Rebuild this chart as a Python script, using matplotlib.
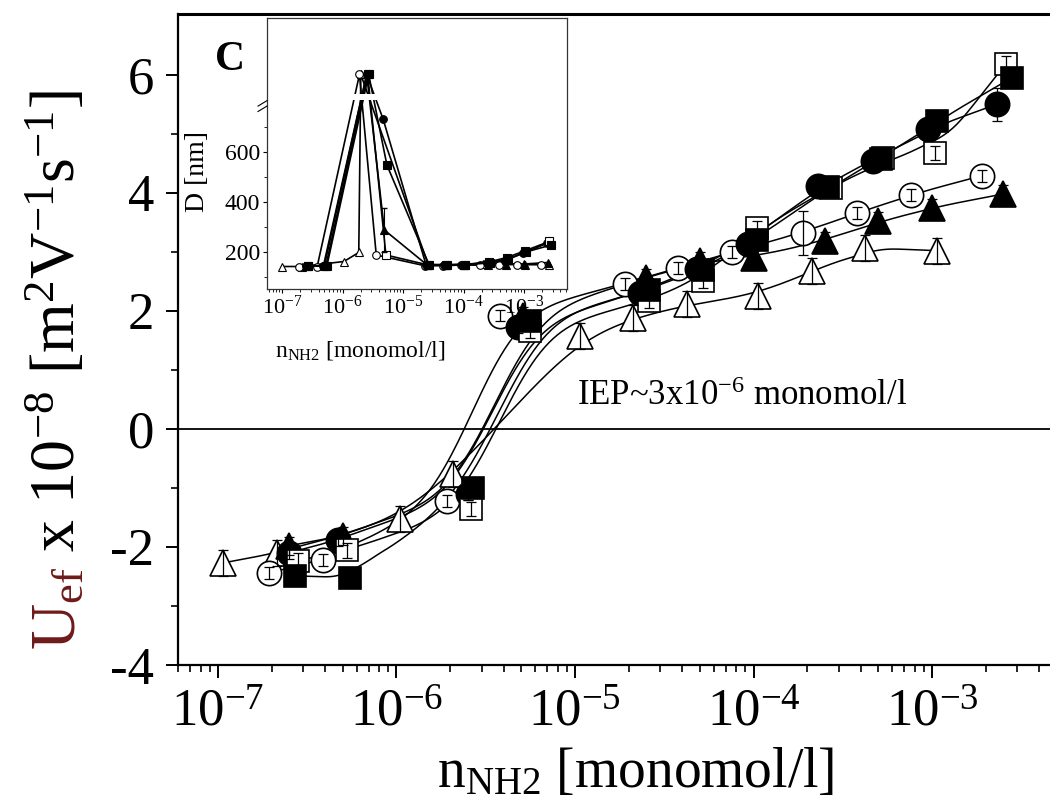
import numpy as np
import matplotlib
matplotlib.use("Agg")
import matplotlib.pyplot as plt
from matplotlib.ticker import FixedLocator, FuncFormatter, LogFormatterMathtext, LogLocator, NullFormatter

plt.rcParams['font.family'] = ['Liberation Serif', 'DejaVu Serif']
plt.rcParams['mathtext.fontset'] = 'custom'
plt.rcParams['mathtext.rm'] = 'Liberation Serif'
plt.rcParams['mathtext.it'] = 'Liberation Serif:italic'
plt.rcParams['mathtext.bf'] = 'Liberation Serif:bold'
plt.rcParams['axes.unicode_minus'] = False

# ---------------- main panel data (mobility) ----------------
ot_x = [1.07e-7, 2.14e-7, 1.04e-6, 2.08e-6, 1.07e-5, 2.11e-5, 4.26e-5, 1.06e-4, 2.14e-4, 4.2e-4, 1.07e-3]
ot_y = [-2.27, -2.10, -1.53, -0.76, 1.58, 1.88, 2.12, 2.25, 2.68, 3.07, 3.02]
ot_e = [0.22] * 11

ft_x = [2.5e-7, 5.0e-7, 2.5e-6, 5.1e-6, 2.5e-5, 5.0e-5, 1.0e-4, 2.5e-4, 5.0e-4, 1.0e-3, 2.5e-3]
ft_y = [-1.98, -1.81, -1.05, 1.92, 2.56, 2.85, 2.90, 3.18, 3.52, 3.75, 3.98]
ft_e = [0.15] * 11

oc_x = [1.93e-7, 3.87e-7, 1.92e-6, 3.8e-6, 1.9e-5, 3.8e-5, 7.6e-5, 1.9e-4, 3.8e-4, 7.6e-4, 1.9e-3]
oc_y = [-2.44, -2.22, -1.22, 1.92, 2.46, 2.73, 3.00, 3.32, 3.66, 3.97, 4.29]
oc_e = [0.1, 0.1, 0.1, 0.1, 0.1, 0.1, 0.1, 0.37, 0.1, 0.1, 0.1]

fc_x = [2.5e-7, 4.7e-7, 2.5e-6, 4.8e-6, 2.3e-5, 4.8e-5, 9.3e-5, 2.3e-4, 4.7e-4, 9.5e-4, 2.3e-3]
fc_y = [-2.10, -1.88, -1.10, 1.73, 2.30, 2.71, 3.13, 4.12, 4.54, 5.08, 5.50]
fc_e = [0.1, 0.1, 0.1, 0.1, 0.1, 0.1, 0.1, 0.1, 0.1, 0.1, 0.28]

os_x = [2.8e-7, 5.3e-7, 2.6e-6, 5.6e-6, 2.6e-5, 5.2e-5, 1.04e-4, 2.7e-4, 5.3e-4, 1.04e-3, 2.6e-3]
os_y = [-2.23, -2.06, -1.36, 1.66, 2.17, 2.50, 3.40, 4.08, 4.59, 4.68, 6.19]
os_e = [0.12] * 11

fs_x = [2.7e-7, 5.5e-7, 2.7e-6, 5.6e-6, 2.6e-5, 5.2e-5, 1.04e-4, 2.6e-4, 5.2e-4, 1.07e-3, 2.8e-3]
fs_y = [-2.49, -2.52, -1.00, 1.83, 2.35, 2.70, 3.20, 4.10, 4.57, 5.22, 5.95]
fs_e = [0.12] * 11

y_ticks = [-4, -2, 0, 2, 4, 6]

# ---------------- inset data (size D, nm) ----------------
PEAK = 3000.0
i_ot_x = [1.0e-7, 2.1e-7, 1.05e-6, 1.85e-6, 2.0e-6, 2.6e-5, 5.2e-5, 1.0e-4, 2.1e-4, 4.2e-4, 1.05e-3, 2.6e-3]
i_ot_y = [142, 142, 162, 198, PEAK, 150, 150, 150, 152, 155, 150, 150]
i_ft_x = [2.5e-7, 5.0e-7, 2.5e-6, 4.9e-6, 2.5e-5, 5.0e-5, 1.0e-4, 2.5e-4, 5.0e-4, 1.0e-3, 2.5e-3]
i_ft_y = [145, 145, PEAK, 288, 148, 148, 148, 150, 150, 152, 158]
i_oc_x = [1.9e-7, 3.8e-7, 1.9e-6, 3.6e-6, 2.3e-5, 4.6e-5, 9.2e-5, 1.9e-4, 3.8e-4, 7.6e-4, 1.9e-3]
i_oc_y = [140, 142, PEAK, 188, 145, 145, 148, 148, 150, 150, 150]
i_fc_x = [2.5e-7, 4.8e-7, 2.5e-6, 4.7e-6, 2.4e-5, 4.8e-5, 9.5e-5, 2.4e-4, 4.8e-4, 9.6e-4, 2.4e-3]
i_fc_y = [145, 143, PEAK, 730, 148, 148, 150, 155, 165, 195, 235]
i_os_x = [2.7e-7, 5.3e-7, 2.6e-6, 5.2e-6, 2.6e-5, 5.2e-5, 1.04e-4, 2.6e-4, 5.2e-4, 1.04e-3, 2.6e-3]
i_os_y = [145, 145, PEAK, 188, 148, 148, 150, 160, 178, 205, 242]
i_fs_x = [2.7e-7, 5.5e-7, 2.7e-6, 5.4e-6, 2.7e-5, 5.4e-5, 1.07e-4, 2.7e-4, 5.4e-4, 1.07e-3, 2.8e-3]
i_fs_y = [145, 145, PEAK, 548, 148, 148, 150, 158, 172, 200, 228]
i_y_ticks = [200, 400, 600]


def smooth_curve(xs, ys, sigma=0.19, n=500):
    """Piecewise-linear curve in log-x, rounded with a Gaussian kernel (drawing aid)."""
    lx = np.log10(xs)
    q = np.linspace(lx[0], lx[-1], n)
    lin = np.interp(q, lx, ys)
    out = np.empty_like(q)
    for i, qi in enumerate(q):
        s = min(sigma, (qi - q[0]) / 2.5, (q[-1] - qi) / 2.5)
        if s <= 1e-6:
            out[i] = lin[i]
            continue
        w = np.exp(-0.5 * ((q - qi) / s) ** 2)
        out[i] = np.sum(w * lin) / np.sum(w)
    return 10 ** q, out


W, H = 1050, 810
fig = plt.figure(figsize=(10.5, 8.1), dpi=100)
ax = fig.add_axes([178 / W, 145 / H, (W - 178) / W, 651 / H])
ax.set_xscale('log')
ax.set_xlim(10 ** -7.224, 10 ** -2.339)
ax.set_ylim(-4, 7.03)

series = [
    (ot_x, ot_y, ot_e, '^', 'white', 18.5),
    (ft_x, ft_y, ft_e, '^', 'black', 18.5),
    (oc_x, oc_y, oc_e, 'o', 'white', 17.5),
    (fc_x, fc_y, fc_e, 'o', 'black', 17.5),
    (os_x, os_y, os_e, 's', 'white', 16),
    (fs_x, fs_y, fs_e, 's', 'black', 16),
]
ax.axhline(0, color='black', lw=1.3, zorder=1)
for xs, ys, es, mk, fc, ms in series:
    cx, cy = smooth_curve(xs, ys)
    ax.plot(cx, cy, color='black', lw=1.1, zorder=2)
    ax.plot(xs, ys, ls='none', marker=mk, ms=ms, mfc=fc, mec='black', mew=1.2, zorder=3)
    ax.errorbar(xs, ys, yerr=es, fmt='none', ecolor='black', elinewidth=0.9,
                capsize=3.5, capthick=0.9, zorder=4)

for s in ['left', 'bottom', 'top']:
    ax.spines[s].set_linewidth(1.6)
ax.spines['top'].set_linewidth(2.2)
ax.spines['right'].set_visible(False)
ax.xaxis.set_major_locator(LogLocator(base=10, numticks=20))
ax.xaxis.set_minor_locator(LogLocator(base=10, subs=np.arange(2, 10), numticks=20))
ax.xaxis.set_major_formatter(LogFormatterMathtext())
ax.xaxis.set_minor_formatter(NullFormatter())
ax.yaxis.set_major_locator(FixedLocator(y_ticks))
ax.yaxis.set_minor_locator(FixedLocator([-3, -1, 1, 3, 5]))
ax.yaxis.set_major_formatter(FuncFormatter(lambda v, p: '%d' % v))
ax.tick_params(which='major', direction='out', length=9, width=1.4, labelsize=38, pad=8,
               top=False, right=False)
ax.tick_params(which='minor', direction='out', length=5, width=1.2, top=False, right=False)

ax.text(577 / W, 1 - 405 / H, 'IEP~3x10$^{-6}$ monomol/l', transform=fig.transFigure,
        fontsize=25, ha='left', va='baseline')

fig.text(636 / W, 1 - 787 / H, 'n$_{\\mathrm{NH2}}$ [monomol/l]', fontsize=40,
         ha='center', va='baseline')

# y label in two pieces (U_ef dark red)
t1 = fig.text(75 / W, 160 / H, 'U$_{\\mathrm{ef}}$', color='#6e1a1a', fontsize=46, rotation=90,
              rotation_mode='anchor', ha='left', va='baseline')
fig.canvas.draw()
bb = t1.get_window_extent(renderer=fig.canvas.get_renderer())
fig.text(75 / W, (160 + bb.height) / H, ' x 10$^{-8}$ [m$^{2}$V$^{-1}$s$^{-1}$]', color='black',
         fontsize=46, rotation=90, rotation_mode='anchor', ha='left', va='baseline')

fig.text(215 / W, 1 - 70 / H, 'C', fontsize=30, fontweight='bold', ha='left', va='baseline')

# ---------------- inset ----------------
B, K = 800.0, 0.05
def fwd(y):
    y = np.asarray(y, float)
    return np.where(y <= B, y, B + (y - B) * K)
def inv(v):
    v = np.asarray(v, float)
    return np.where(v <= B, v, B + (v - B) / K)

ins = fig.add_axes([267 / W, 1 - 289 / H, 300 / W, 271 / H])
ins.set_xscale('log')
ins.set_yscale('function', functions=(fwd, inv))
ins.set_xlim(10 ** -7.25, 10 ** -2.29)
ins.set_ylim(52, float(inv(1136)))

iseries = [
    (i_ot_x, i_ot_y, '^', 'white'),
    (i_ft_x, i_ft_y, '^', 'black'),
    (i_oc_x, i_oc_y, 'o', 'white'),
    (i_fc_x, i_fc_y, 'o', 'black'),
    (i_os_x, i_os_y, 's', 'white'),
    (i_fs_x, i_fs_y, 's', 'black'),
]
for xs, ys, mk, fc in iseries:
    ins.plot(xs, ys, color='black', lw=1.2, marker=mk, ms=5.5, mfc=fc, mec='black', mew=0.8, zorder=3)
ins.errorbar([4.9e-6], [288], yerr=[88], fmt='none', ecolor='black', elinewidth=0.8, capsize=2, zorder=4)
ins.axhspan(float(inv(807)), float(inv(832)), color='white', zorder=4, lw=0)
for s in ins.spines.values():
    s.set_linewidth(0.9)
    s.set_color('#333333')
    s.set_zorder(6)
ins.plot([-0.03, 0.0], [0.655, 0.675], transform=ins.transAxes, color='black', lw=0.8, clip_on=False, zorder=7)
ins.plot([-0.03, 0.0], [0.675, 0.695], transform=ins.transAxes, color='black', lw=0.8, clip_on=False, zorder=7)

ins.xaxis.set_major_locator(LogLocator(base=10, numticks=20))
ins.xaxis.set_minor_locator(LogLocator(base=10, subs=np.arange(2, 10), numticks=20))
ins.xaxis.set_major_formatter(LogFormatterMathtext())
ins.xaxis.set_minor_formatter(NullFormatter())
ins.yaxis.set_major_locator(FixedLocator(i_y_ticks))
ins.yaxis.set_minor_locator(FixedLocator([100, 300, 500, 700]))
ins.yaxis.set_major_formatter(FuncFormatter(lambda v, p: '%d' % v))
ins.tick_params(which='major', direction='out', length=3, width=0.8, labelsize=17, pad=2)
ins.tick_params(which='minor', direction='out', length=2, width=0.6)
ins.tick_params(axis='x', labelsize=16)

fig.text(197 / W, 1 - 172 / H, 'D [nm]', fontsize=20, rotation=90, ha='center', va='center')
fig.text(360 / W, 1 - 357 / H, 'n$_{\\mathrm{NH2}}$ [monomol/l]', fontsize=17, ha='center', va='baseline')

fig.savefig('out.png', dpi=100)
